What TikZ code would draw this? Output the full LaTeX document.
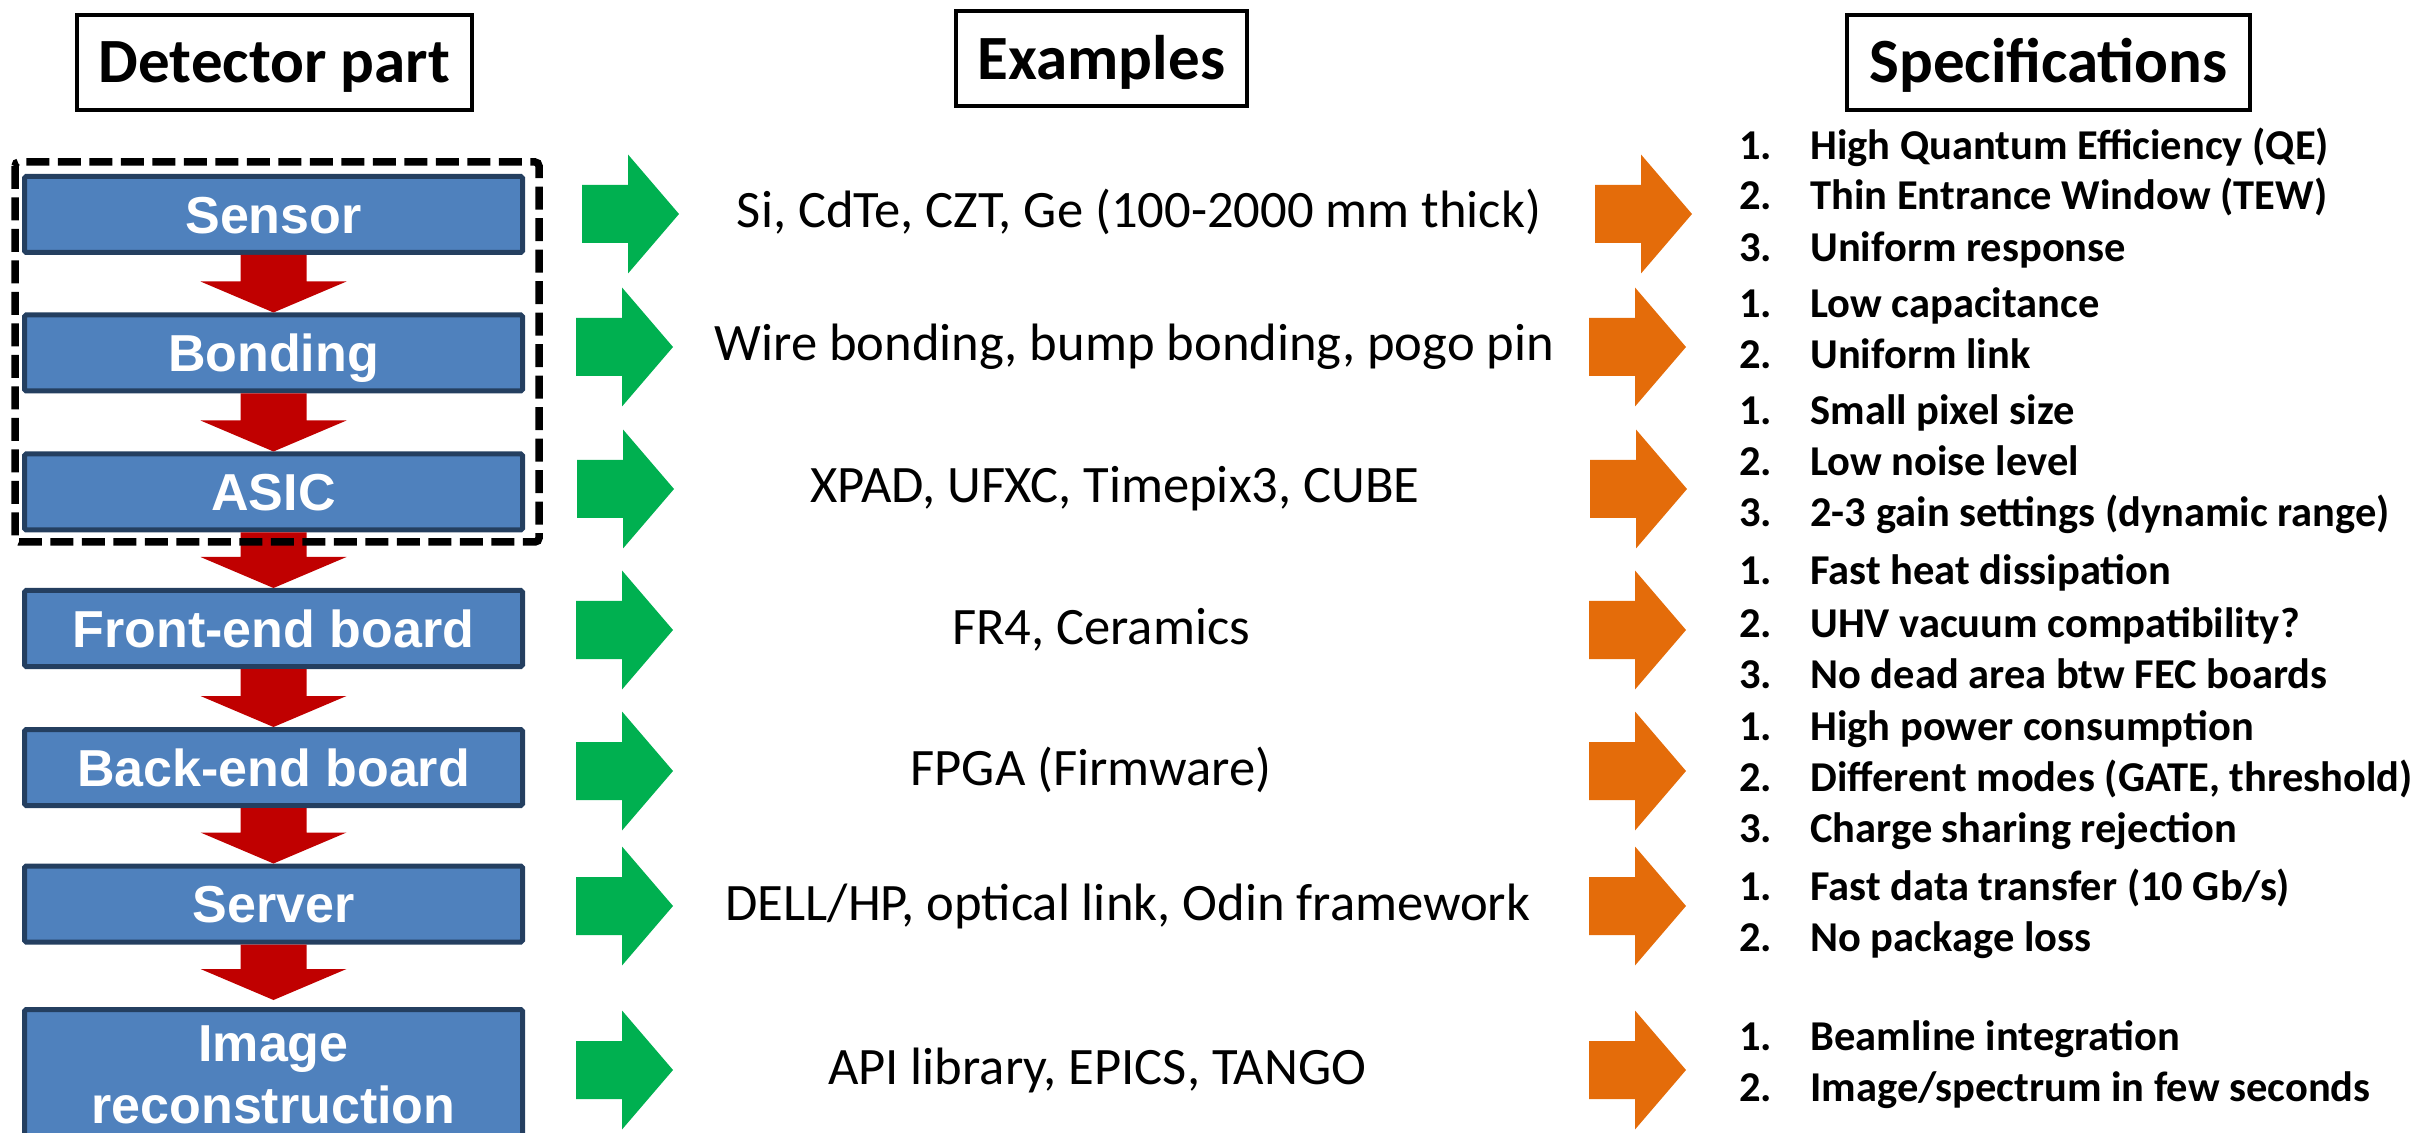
\documentclass[tikz,border=0pt]{standalone}
\usepackage{fontspec}
\setmainfont{Carlito}
\newfontfamily\partfont{Liberation Sans}
\usetikzlibrary{calc}

\definecolor{partblue}{HTML}{4F81BD}
\definecolor{partedge}{HTML}{243F60}
\definecolor{flowred}{HTML}{C00000}
\definecolor{exgreen}{HTML}{00B050}
\definecolor{specorange}{HTML}{E46C0A}

\tikzset{
  headbox/.style={draw=black, line width=2pt, inner xsep=11pt, inner ysep=0pt,
    minimum height=47.5pt, text height=20.3pt, text depth=0pt,
    font=\bfseries\fontsize{31.5}{38}\selectfont},
  partbox/.style={draw=partedge, fill=partblue, line width=2.5pt, rounded corners=0.8pt,
    minimum width=249pt, minimum height=38pt, inner sep=0pt, text=white,
    text height=18.6pt, text depth=0pt,
    font=\partfont\bfseries\fontsize{26}{31}\selectfont},
  parttext/.style={inner sep=0pt, text=white, anchor=base,
    font=\partfont\bfseries\fontsize{26}{31}\selectfont},
  groupframe/.style={draw=black, line width=3.75pt, rounded corners=2pt,
    dash pattern=on 11.5pt off 4.25pt},
  extext/.style={inner sep=0pt, anchor=base, font=\fontsize{26.3}{31}\selectfont},
  specnum/.style={inner sep=0pt, anchor=base west, font=\bfseries\fontsize{21.25}{25}\selectfont},
  spectxt/.style={inner sep=0pt, anchor=base west, font=\bfseries\fontsize{21.25}{25}\selectfont},
}

% downward flow arrow between two part boxes; optional gap above the target box
\newcommand\flowstep[3][0]{%
  \fill[flowred] ($(#2.south)+(-33,0)$) -- ($(#2.south)+(33,0)$)
    -- ($(#3.north)+(33,-31-#1)$) -- ($(#3.north)+(73,-31-#1)$) -- ($(#3.north)+(0,-#1)$)
    -- ($(#3.north)+(-73,-31-#1)$) -- ($(#3.north)+(-33,-31-#1)$) -- cycle;}
% block arrow pointing right, tip at a named coordinate
\newcommand\rowarrow[2]{%
  \fill[#1] ($(#2)+(-97,-29)$) -- ($(#2)+(-51,-29)$) -- ($(#2)+(-51,-59.5)$)
    -- (#2) -- ($(#2)+(-51,59.5)$) -- ($(#2)+(-51,29)$) -- ($(#2)+(-97,29)$) -- cycle;}
% numbered specification line
\newcommand\specline[4]{%
  \node[specnum] (#1n) at (1739,#2) {#3};
  \node[spectxt] (#1t) at (1810,#2) {#4};}

\begin{document}
\begin{tikzpicture}[x=0.5pt, y=-0.5pt]
\useasboundingbox (0,0) rectangle (2425,1133);
\clip (0,0) rectangle (2425,1133);

% column headings
\node[headbox] (hpart) at (274.5,62.5) {Detector part};
\node[headbox] (hex) at (1101.5,59) {Examples};
\node[headbox] (hspec) at (2048.5,62.5) {Specifications};

% detector chain
\node[partbox] (sensor) at (273.5,214.5) {Sensor};
\node[partbox] (bonding) at (273.5,353) {Bonding};
\node[partbox] (asic) at (273.5,492) {ASIC};
\node[partbox] (frontend) at (273.5,628.5) {Front-end board};
\node[partbox] (backend) at (273.5,767.5) {Back-end board};
\node[partbox] (server) at (273.5,904) {Server};
\node[partbox, anchor=north, minimum height=90pt] (image) at (273.5,1007) {};
\node[parttext] (imgl1) at (273.5,1061) {Image};
\node[parttext] (imgl2) at (273.5,1123) {reconstruction};

\flowstep{sensor}{bonding}
\flowstep{bonding}{asic}
\flowstep{asic}{frontend}
\flowstep{frontend}{backend}
\flowstep{backend}{server}
\flowstep[7]{server}{image}

% hybrid module frame
\draw[groupframe] (15,162) rectangle (539,542);

% arrow tips
\coordinate (g1) at (679,214);  \coordinate (o1) at (1692,214);
\coordinate (g2) at (673,347);  \coordinate (o2) at (1686,347);
\coordinate (g3) at (674,489);  \coordinate (o3) at (1687,489);
\coordinate (g4) at (673,630);  \coordinate (o4) at (1686,630);
\coordinate (g5) at (673,771);  \coordinate (o5) at (1686,771);
\coordinate (g6) at (673,906);  \coordinate (o6) at (1686,906);
\coordinate (g7) at (673,1070); \coordinate (o7) at (1686,1070);
\foreach \k in {1,...,7}{\rowarrow{exgreen}{g\k}\rowarrow{specorange}{o\k}}

% examples
\node[extext] (ex1) at (1139,228) {Si, CdTe, CZT, Ge (100-2000 mm thick)};
\node[extext] (ex2) at (1134.5,361) {Wire bonding, bump bonding, pogo pin};
\node[extext] (ex3) at (1115,503) {XPAD, UFXC, Timepix3, CUBE};
\node[extext] (ex4) at (1101,644) {FR4, Ceramics};
\node[extext] (ex5) at (1091,785) {FPGA (Firmware)};
\node[extext] (ex6) at (1128,920) {DELL/HP, optical link, Odin framework};
\node[extext] (ex7) at (1097,1084) {API library, EPICS, TANGO};

% specifications
\specline{sa1}{160}{1.}{High Quantum Efficiency (QE)}
\specline{sa2}{210}{2.}{Thin Entrance Window (TEW)}
\specline{sa3}{262}{3.}{Uniform response}
\specline{sb1}{318}{1.}{Low capacitance}
\specline{sb2}{369}{2.}{Uniform link}
\specline{sc1}{425}{1.}{Small pixel size}
\specline{sc2}{476}{2.}{Low noise level}
\specline{sc3}{527}{3.}{2-3 gain settings (dynamic range)}
\specline{sd1}{585}{1.}{Fast heat dissipation}
\specline{sd2}{638}{2.}{UHV vacuum compatibility?}
\specline{sd3}{688}{3.}{No dead area btw FEC boards}
\specline{se1}{740}{1.}{High power consumption}
\specline{se2}{791}{2.}{Different modes (GATE, threshold)}
\specline{se3}{842}{3.}{Charge sharing rejection}
\specline{sf1}{900}{1.}{Fast data transfer (10 Gb/s)}
\specline{sf2}{951}{2.}{No package loss}
\specline{sg1}{1050}{1.}{Beamline integration}
\specline{sg2}{1101}{2.}{Image/spectrum in few seconds}
\end{tikzpicture}
\end{document}
